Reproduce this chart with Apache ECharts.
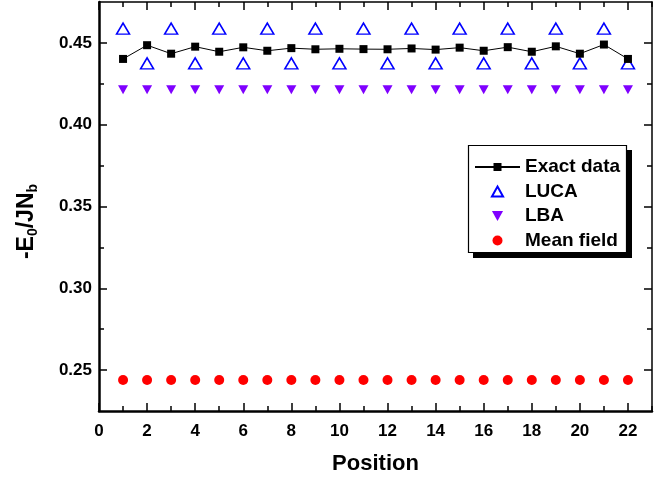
<!DOCTYPE html>
<html><head><meta charset="utf-8">
<script src="https://cdn.jsdelivr.net/npm/echarts@6/dist/echarts.min.js"></script>
<style>html,body{margin:0;padding:0;background:#fff}#c{width:668px;height:480px}</style>
</head><body><div id="c"></div><script>
const positions = [1,2,3,4,5,6,7,8,9,10,11,12,13,14,15,16,17,18,19,20,21,22];
const exactData = [0.4402,0.4486,0.4434,0.4477,0.4446,0.4473,0.4452,0.4468,0.4461,0.4464,0.4462,0.4461,0.4466,0.4459,0.4471,0.4452,0.4474,0.4446,0.4479,0.4434,0.4490,0.4402];
const lucaData = [0.4587,0.4375,0.4587,0.4375,0.4587,0.4375,0.4587,0.4375,0.4587,0.4375,0.4587,0.4375,0.4587,0.4375,0.4587,0.4375,0.4587,0.4375,0.4587,0.4375,0.4587,0.4375];
const lbaData = [0.4213,0.4213,0.4213,0.4213,0.4213,0.4213,0.4213,0.4213,0.4213,0.4213,0.4213,0.4213,0.4213,0.4213,0.4213,0.4213,0.4213,0.4213,0.4213,0.4213,0.4213,0.4213];
const meanFieldData = [0.2439,0.2439,0.2439,0.2439,0.2439,0.2439,0.2439,0.2439,0.2439,0.2439,0.2439,0.2439,0.2439,0.2439,0.2439,0.2439,0.2439,0.2439,0.2439,0.2439,0.2439,0.2439];
const seriesNames = ['Exact data','LUCA','LBA','Mean field'];
const xMajorTicks = [0,2,4,6,8,10,12,14,16,18,20,22];
const xMinorTicks = [1,3,5,7,9,11,13,15,17,19,21,23];
const yMajorTicks = [0.25,0.30,0.35,0.40,0.45];
const yMinorTicks = [0.275,0.325,0.375,0.425];
const xName = 'Position';

const FONT = 'Liberation Sans, Arial, Helvetica, sans-serif';
const UP_TRI = 'path://M5,0 L10,9 L0,9 Z';
const DOWN_TRI = 'path://M0,0 L10,0 L5,9 Z';
const pair = (ys) => positions.map((x,i)=>[x, ys[i]]);

function xAx(pos, major, showLine, showLabel, lw) {
  return {
    type:'value', min:0, max:23, position:pos,
    name: showLabel ? xName : '', nameLocation:'middle', nameGap:42,
    nameTextStyle:{fontFamily:FONT, fontWeight:'bold', fontSize:22, color:'#000'},
    axisLine:{show:showLine, onZero:false, lineStyle:{color:'#000', width:lw}},
    axisTick:{show:true, inside:true, length: major?8:5, lineStyle:{color:'#000', width:1.5}, customValues: major?xMajorTicks:xMinorTicks},
    axisLabel:{show:showLabel, margin:12, fontFamily:FONT, fontWeight:'bold', fontSize:17, color:'#000', customValues: xMajorTicks},
    splitLine:{show:false}
  };
}
function yAx(pos, major, showLine, showLabel, lw) {
  return {
    type:'value', min:0.225, max:0.475, position:pos,
    name: showLabel ? '{a|-E}{s|0}{a|/JN}{s|b}' : '', nameLocation:'middle', nameGap:59,
    nameTextStyle:{fontFamily:FONT, fontWeight:'bold', fontSize:23, color:'#000', padding:[0,30,0,0],
      rich:{a:{fontFamily:FONT, fontWeight:'bold', fontSize:23, lineHeight:26, color:'#000'},
            s:{fontFamily:FONT, fontWeight:'bold', fontSize:14, lineHeight:12, verticalAlign:'bottom', color:'#000'}}},
    axisLine:{show:showLine, onZero:false, lineStyle:{color:'#000', width:lw}},
    axisTick:{show:true, inside:true, length: major?8:5, lineStyle:{color:'#000', width:1.5}, customValues: major?yMajorTicks:yMinorTicks},
    axisLabel:{show:showLabel, margin:7, fontFamily:FONT, fontWeight:'bold', fontSize:17, color:'#000', customValues: yMajorTicks,
      formatter:(v)=>v.toFixed(2)},
    splitLine:{show:false}
  };
}

const chart = echarts.init(document.getElementById('c'), null, {renderer:'canvas'});
chart.setOption({
  animation:false,
  backgroundColor:'#fff',
  grid:{left:99, right:16, top:2, bottom:69, containLabel:false, outerBoundsMode:'none'},
  xAxis:[xAx('bottom',true,true,true,2.5), xAx('bottom',false,false,false,1), xAx('top',true,true,false,1.5), xAx('top',false,false,false,1)],
  yAxis:[yAx('left',true,true,true,2.5), yAx('left',false,false,false,1), yAx('right',true,true,false,1.5), yAx('right',false,false,false,1)],
  graphic:[
    {type:'rect', z:20, silent:true, shape:{x:473, y:150, width:159, height:108}, style:{fill:'#000'}},
    {type:'rect', z:21, silent:true, shape:{x:468.5, y:145.5, width:158, height:107}, style:{fill:'#fff', stroke:'#000', lineWidth:1.2}}
  ],
  legend:{
    orient:'vertical', left:474, top:157, z:30,
    padding:0, itemGap:4.5, itemWidth:45, itemHeight:10, symbolKeepAspect:true,
    textStyle:{fontFamily:FONT, fontWeight:'bold', fontSize:19, lineHeight:20, color:'#000'},
    data:seriesNames
  },
  series:[
    {name:seriesNames[0], type:'line', data:pair(exactData), symbol:'rect', symbolSize:8,
     itemStyle:{color:'#000', opacity:1}, lineStyle:{color:'#000', width:1}, z:5},
    {name:seriesNames[1], type:'scatter', data:pair(lucaData), symbol:UP_TRI, symbolSize:[13,11],
     itemStyle:{color:'#fff', borderColor:'#0000ff', borderWidth:1.5, opacity:1}, z:4},
    {name:seriesNames[2], type:'scatter', data:pair(lbaData), symbol:DOWN_TRI, symbolSize:[10,9],
     itemStyle:{color:'#7f00ff', opacity:1}, z:4},
    {name:seriesNames[3], type:'scatter', data:pair(meanFieldData), symbol:'circle', symbolSize:10,
     itemStyle:{color:'#ff0000', opacity:1}, z:4}
  ]
});
</script></body></html>
